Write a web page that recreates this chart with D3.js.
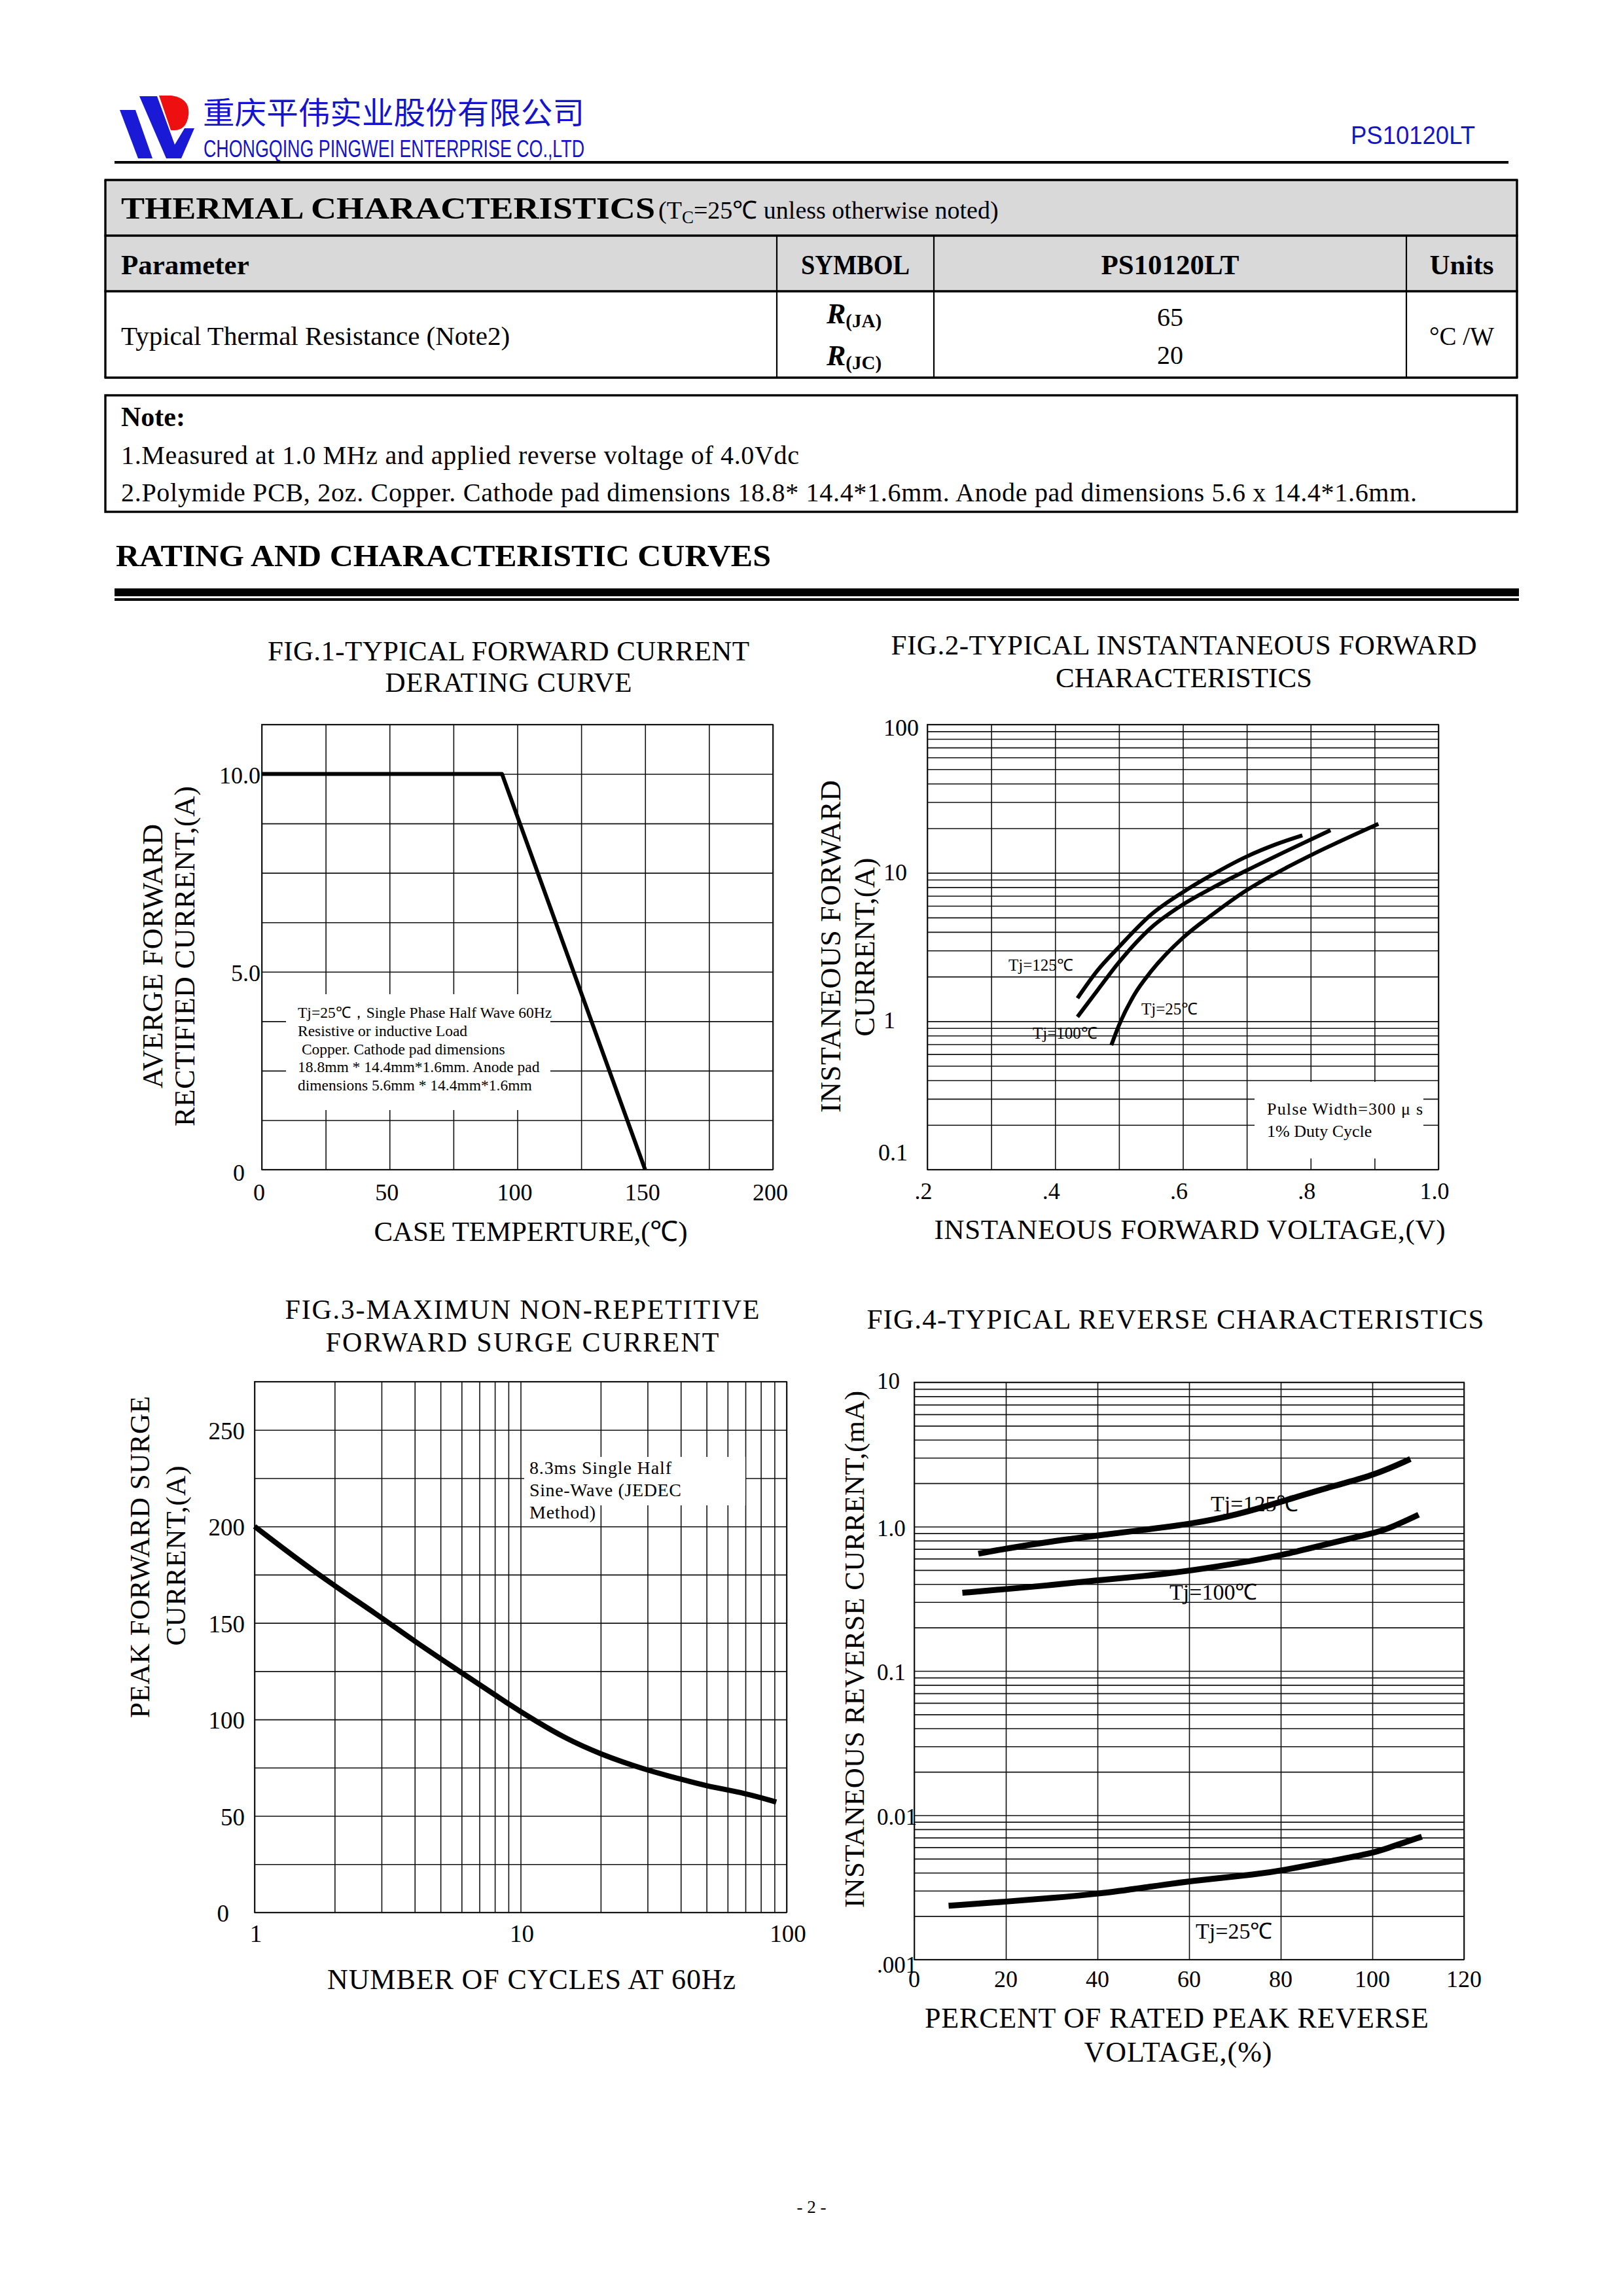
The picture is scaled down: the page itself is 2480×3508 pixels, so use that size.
<!DOCTYPE html>
<html><head><meta charset="utf-8">
<script src="https://cdn.jsdelivr.net/npm/d3@7"></script>
<style>body{margin:0;background:#fff} svg{display:block}</style>
</head><body>
<script>
// ================= DATA =================
const companyCN = "重庆平伟实业股份有限公司";
const companyEN = "CHONGQING PINGWEI ENTERPRISE CO.,LTD";
const partNo = "PS10120LT";

const tableHeaders = ["Parameter", "SYMBOL", "PS10120LT", "Units"];
const tableParam = "Typical Thermal Resistance (Note2)";
const tableSymbols = ["(JA)", "(JC)"];
const tableValues = ["65", "20"];
const tableUnit = "°C /W";
const notes = ["1.Measured at 1.0 MHz and applied reverse voltage of 4.0Vdc",
  "2.Polymide PCB, 2oz. Copper. Cathode pad dimensions 18.8* 14.4*1.6mm. Anode pad dimensions 5.6 x 14.4*1.6mm."];

// Fig 1
const fig1Temp = [0, 94, 150];
const fig1Current = [10, 10, 0];
const fig1XTicks = [0, 50, 100, 150, 200];
const fig1YTicks = [0, 5, 10];
const fig1YLabels = ["0", "5.0", "10.0"];
const fig1Note = ["Tj=25℃，Single Phase Half Wave 60Hz", "Resistive or inductive Load",
  " Copper. Cathode pad dimensions", "18.8mm * 14.4mm*1.6mm. Anode pad", "dimensions 5.6mm * 14.4mm*1.6mm"];

// Fig 2
const fig2V125 = [0.435, 0.466, 0.500, 0.551, 0.600, 0.644, 0.700, 0.746, 0.787];
const fig2I125 = [1.43, 2.19, 3.17, 5.27, 7.41, 9.62, 12.9, 15.6, 17.9];
const fig2V100 = [0.435, 0.466, 0.500, 0.551, 0.600, 0.647, 0.700, 0.763, 0.831];
const fig2I100 = [1.07, 1.61, 2.50, 4.30, 6.12, 7.96, 10.4, 14.1, 19.4];
const fig2V25 = [0.488, 0.500, 0.524, 0.551, 0.600, 0.647, 0.700, 0.763, 0.801, 0.906];
const fig2I25 = [0.69, 0.94, 1.51, 2.19, 3.65, 5.27, 7.65, 10.9, 13.2, 21.4];
const fig2XTicks = [0.2, 0.4, 0.6, 0.8, 1.0];
const fig2XLabels = [".2", ".4", ".6", ".8", "1.0"];
const fig2YTicks = [100, 10, 1, 0.1];
const fig2YLabels = ["100", "10", "1", "0.1"];

// Fig 3
const fig3Cycles = [1, 1.69, 2.97, 3.96, 6.05, 9.11, 11.45, 14.6, 19.8, 29.9, 40.1, 49.1, 70.7, 91.4];
const fig3Current = [200, 175.9, 153.3, 140.8, 123.9, 107.5, 99, 90.5, 82.1, 73.6, 69.1, 65.7, 61.7, 57.2];
const fig3XTicks = [1, 10, 100];
const fig3YTicks = [0, 50, 100, 150, 200, 250];

// Fig 4
const fig4P125 = [14.0, 20.0, 30.1, 40.1, 50.1, 60.2, 70.2, 80.2, 90.2, 100.0, 108.3];
const fig4I125 = [0.649, 0.705, 0.792, 0.868, 0.951, 1.04, 1.20, 1.49, 1.87, 2.24, 2.94];
const fig4P100 = [10.5, 20.0, 30.1, 40.1, 50.1, 60.2, 74.2, 80.2, 90.2, 100.0, 103.3, 110.1];
const fig4I100 = [0.348, 0.369, 0.394, 0.425, 0.454, 0.493, 0.582, 0.633, 0.760, 0.897, 0.959, 1.21];
const fig4P25 = [7.5, 20.0, 30.1, 40.1, 50.1, 60.2, 75.2, 80.2, 90.2, 100.0, 103.3, 110.8];
const fig4I25 = [0.00236, 0.00252, 0.00267, 0.00285, 0.00315, 0.00351, 0.00391, 0.00414, 0.00477, 0.00545, 0.00592, 0.00711];
const fig4XTicks = [0, 20, 40, 60, 80, 100, 120];
const fig4YTicks = [10, 1, 0.1, 0.01, 0.001];
const fig4YLabels = ["10", "1.0", "0.1", "0.01", ".001"];

// ================= DRAW =================
const W = 2480, H = 3508;
const svg = d3.select("body").append("svg").attr("width", W).attr("height", H).attr("viewBox", `0 0 ${W} ${H}`);
svg.append("rect").attr("width", W).attr("height", H).attr("fill", "#fff");
const SERIF = "'Liberation Serif','Times New Roman',serif";
const SANS = "'Liberation Sans',Arial,sans-serif";
const BLUE = "#1414cc";

function txt(p, s, x, y, o = {}) {
  const t = p.append("text").attr("x", x).attr("y", y).text(s)
    .attr("font-family", o.family || SERIF).attr("font-size", o.size || 40)
    .attr("fill", o.fill || "#000");
  if (o.anchor) t.attr("text-anchor", o.anchor);
  if (o.weight) t.attr("font-weight", o.weight);
  if (o.style) t.attr("font-style", o.style);
  if (o.len) t.attr("textLength", o.len).attr("lengthAdjust", o.adjust || "spacing");
  if (o.rotate) t.attr("transform", `rotate(-90,${x},${y})`);
  t.style("white-space", "pre");
  return t;
}
function hline(p, x0, x1, y, w) { p.append("line").attr("x1", x0).attr("x2", x1).attr("y1", y).attr("y2", y).attr("stroke", "#000").attr("stroke-width", w); }
function vline(p, x, y0, y1, w) { p.append("line").attr("x1", x).attr("x2", x).attr("y1", y0).attr("y2", y1).attr("stroke", "#000").attr("stroke-width", w); }

// ---------- Header ----------
const hd = svg.append("g");
hd.append("polygon").attr("points", "183,168 207,168 233,242 211,242").attr("fill", "#1a1ad6");
hd.append("polygon").attr("points", "213,147 240,147 267,221 282,196 297,196 277,242 254,242").attr("fill", "#1a1ad6");
hd.append("path").attr("d", "M243,146 L262,146 Q291,150 288,176 Q285,199 266,199 L261,199 Z").attr("fill", "#ee1010");
txt(hd, companyCN, 310, 189, { family: "'Noto Sans CJK SC',sans-serif", size: 47, fill: BLUE, len: 583, adjust: "spacingAndGlyphs" });
txt(hd, companyEN, 311, 240, { family: SANS, size: 36, fill: BLUE, len: 582, adjust: "spacingAndGlyphs" });
txt(hd, partNo, 2064, 220, { family: SANS, size: 38, fill: BLUE, len: 190, adjust: "spacingAndGlyphs" });
hd.append("rect").attr("x", 175).attr("y", 246).attr("width", 2130).attr("height", 4).attr("fill", "#000");

// ---------- Table ----------
const tb = svg.append("g");
const TL = 161, TR = 2318, rows = [275, 360, 445, 577], cols = [1187, 1427, 2149];
tb.append("rect").attr("x", TL).attr("y", rows[0]).attr("width", TR - TL).attr("height", rows[2] - rows[0]).attr("fill", "#d9d9d9");
rows.forEach(r => hline(tb, TL - 1.5, TR + 1.5, r, 3.4));
vline(tb, TL, rows[0], rows[3], 3.4); vline(tb, TR, rows[0], rows[3], 3.4);
cols.forEach(c => vline(tb, c, rows[1], rows[3], 2.2));
txt(tb, "THERMAL CHARACTERISTICS", 185, 334, { size: 47, weight: "bold", len: 816, adjust: "spacingAndGlyphs" });
const sub = txt(tb, "", 1006, 334, { size: 38 });
sub.append("tspan").text("(T");
sub.append("tspan").text("C").attr("font-size", 27).attr("dy", 7);
sub.append("tspan").text("=25℃ unless otherwise noted)").attr("dy", -7);
const hx = [185, (cols[0] + cols[1]) / 2, (cols[1] + cols[2]) / 2, (cols[2] + TR) / 2];
tableHeaders.forEach((h, i) => txt(tb, h, hx[i], 419, { size: 43, weight: "bold", anchor: i ? "middle" : null, len: i === 1 ? 166 : null, adjust: "spacingAndGlyphs" }));
txt(tb, tableParam, 185, 527, { size: 41 });
[494, 558].forEach((by, i) => {
  const t = txt(tb, "", 1263, by, { size: 44, weight: "bold" });
  t.append("tspan").text("R").attr("font-style", "italic");
  t.append("tspan").text(tableSymbols[i]).attr("font-size", 29).attr("dy", 6);
  txt(tb, tableValues[i], hx[2], i ? 556 : 498, { size: 40, anchor: "middle" });
});
txt(tb, tableUnit, hx[3], 527, { size: 39, anchor: "middle" });

// Note box
tb.append("rect").attr("x", TL).attr("y", 604).attr("width", TR - TL).attr("height", 178).attr("fill", "none").attr("stroke", "#000").attr("stroke-width", 3.4);
txt(tb, "Note:", 185, 651, { size: 42, weight: "bold" });
txt(tb, notes[0], 185, 709, { size: 40, len: 1036 });
txt(tb, notes[1], 185, 766, { size: 40, len: 1980 });

// Section title
txt(svg, "RATING AND CHARACTERISTIC CURVES", 177, 865, { size: 47, weight: "bold", len: 1001, adjust: "spacingAndGlyphs" });
svg.append("rect").attr("x", 175).attr("y", 899).attr("width", 2146).attr("height", 12).attr("fill", "#000");
svg.append("rect").attr("x", 175).attr("y", 914).attr("width", 2146).attr("height", 4).attr("fill", "#000");

// ---------- helpers for plots ----------
function gridLines(g, x, y, xv, yv) {
  const [yb, yt] = y.range(), [xl, xr] = x.range();
  const gx = g.append("g").attr("transform", `translate(0,${yb})`)
    .call(d3.axisBottom(x).tickValues(xv).tickSize(-(yb - yt)).tickSizeOuter(0).tickFormat(""));
  const gy = g.append("g").attr("transform", `translate(${xl},0)`)
    .call(d3.axisLeft(y).tickValues(yv).tickSize(-(xr - xl)).tickSizeOuter(0).tickFormat(""));
  [gx, gy].forEach(a => { a.select(".domain").remove(); a.selectAll("line").attr("stroke", "#111").attr("stroke-width", 1.6); });
}
function frame(g, x, y) {
  const [yb, yt] = y.range(), [xl, xr] = x.range();
  g.append("rect").attr("x", xl).attr("y", yt).attr("width", xr - xl).attr("height", yb - yt)
    .attr("fill", "none").attr("stroke", "#111").attr("stroke-width", 1.8);
}
function curve(g, x, y, xs, ys, w, cv) {
  const pts = xs.map((v, i) => [v, ys[i]]);
  g.append("path").datum(pts)
    .attr("d", d3.line().x(d => x(d[0])).y(d => y(d[1])).curve(cv || d3.curveLinear))
    .attr("fill", "none").attr("stroke", "#000").attr("stroke-width", w)
    .attr("stroke-linejoin", "round").attr("stroke-linecap", "butt");
}
function mask(g, x0, y0, x1, y1) { g.append("rect").attr("x", x0).attr("y", y0).attr("width", x1 - x0).attr("height", y1 - y0).attr("fill", "#fff"); }

// ---------- Fig 1 ----------
{
  const g = svg.append("g");
  const x = d3.scaleLinear().domain([0, 200]).range([400, 1181]);
  const y = d3.scaleLinear().domain([0, 11.25]).range([1787, 1107]);
  txt(g, "FIG.1-TYPICAL FORWARD CURRENT", 777, 1009, { size: 43, anchor: "middle", len: 736 });
  txt(g, "DERATING CURVE", 777, 1057, { size: 43, anchor: "middle", len: 377 });
  gridLines(g, x, y, d3.range(0, 201, 25), d3.range(0, 11.26, 1.25));
  mask(g, 437, 1519, 841, 1696);
  frame(g, x, y);
  fig1Note.forEach((s, i) => txt(g, s, 455, 1555 + i * 27.8, { size: 23.5 }));
  curve(g, x, y, fig1Temp, fig1Current, 6);
  fig1YTicks.forEach((v, i) => txt(g, fig1YLabels[i], v === 0 ? 374 : x(0) - 2, y(v) + (v === 0 ? 17 : 14), { size: 36, anchor: "end" }));
  fig1XTicks.forEach(v => txt(g, String(v), x(v) - 4, 1834, { size: 36, anchor: "middle" }));
  txt(g, "CASE TEMPERTURE,(℃)", 811, 1896, { size: 43, anchor: "middle", len: 479 });
  txt(g, "AVERGE FORWARD", 248, 1461, { size: 44, anchor: "middle", rotate: true, len: 404 });
  txt(g, "RECTIFIED CURRENT,(A)", 297, 1461, { size: 44, anchor: "middle", rotate: true, len: 520 });
}

// ---------- Fig 2 ----------
{
  const g = svg.append("g");
  const x = d3.scaleLinear().domain([0.2, 1.0]).range([1417, 2198]);
  const y = d3.scaleLog().domain([0.1, 100]).range([1787, 1107]);
  txt(g, "FIG.2-TYPICAL INSTANTANEOUS FORWARD", 1809, 1000, { size: 43, anchor: "middle", len: 895 });
  txt(g, "CHARACTERISTICS", 1809, 1050, { size: 43, anchor: "middle", len: 392 });
  gridLines(g, x, y, d3.range(0.2, 1.001, 0.1), y.ticks());
  mask(g, 1917, 1653, 2175, 1770);
  frame(g, x, y);
  txt(g, "Pulse Width=300 μ s", 1936, 1703, { size: 26, len: 238 });
  txt(g, "1% Duty Cycle", 1936, 1737, { size: 26 });
  curve(g, x, y, fig2V125, fig2I125, 6, d3.curveMonotoneX);
  curve(g, x, y, fig2V100, fig2I100, 6, d3.curveMonotoneX);
  curve(g, x, y, fig2V25, fig2I25, 6, d3.curveMonotoneX);
  txt(g, "Tj=125℃", 1541, 1483, { size: 25 });
  txt(g, "Tj=100℃", 1578, 1587, { size: 25 });
  txt(g, "Tj=25℃", 1744, 1550, { size: 25 });
  fig2YTicks.forEach((v, i) => txt(g, fig2YLabels[i], v < 1 ? 1342 : 1350, y(v) + (v === 100 ? 17 : v < 1 ? -14 : 11), { size: 36 }));
  fig2XTicks.forEach((v, i) => txt(g, fig2XLabels[i], x(v) - 6, 1832, { size: 36, anchor: "middle" }));
  txt(g, "INSTANEOUS FORWARD VOLTAGE,(V)", 1818, 1893, { size: 43, anchor: "middle", len: 781 });
  txt(g, "INSTANEOUS FORWARD", 1284, 1446, { size: 44, anchor: "middle", rotate: true, len: 508 });
  txt(g, "CURRENT,(A)", 1336, 1447, { size: 44, anchor: "middle", rotate: true, len: 273 });
}

// ---------- Fig 3 ----------
{
  const g = svg.append("g");
  const x = d3.scaleLog().domain([1, 100]).range([389, 1202]);
  const y = d3.scaleLinear().domain([0, 275]).range([2922, 2111]);
  txt(g, "FIG.3-MAXIMUN NON-REPETITIVE", 798, 2015, { size: 42, anchor: "middle", len: 725 });
  txt(g, "FORWARD SURGE CURRENT", 798, 2065, { size: 42, anchor: "middle", len: 601 });
  gridLines(g, x, y, x.ticks(), d3.range(0, 276, 25));
  mask(g, 801, 2226, 1139, 2300);
  mask(g, 801, 2300, 912, 2328);
  frame(g, x, y);
  ["8.3ms Single Half", "Sine-Wave (JEDEC", "Method)"].forEach((s, i) => txt(g, s, 809, 2252 + i * 34, { size: 28, len: [217, 232, 101][i] }));
  curve(g, x, y, fig3Cycles, fig3Current, 8, d3.curveBasis);
  fig3YTicks.forEach(v => txt(g, String(v), v === 0 ? 350 : 374, y(v) + 14, { size: 37, anchor: "end" }));
  fig3XTicks.forEach(v => txt(g, String(v), x(v) + 2, 2967, { size: 37, anchor: "middle" }));
  txt(g, "NUMBER OF CYCLES AT 60Hz", 812, 3039, { size: 44, anchor: "middle", len: 624 });
  txt(g, "PEAK FORWARD SURGE", 228, 2379, { size: 43, anchor: "middle", rotate: true, len: 492 });
  txt(g, "CURRENT,(A)", 283, 2377, { size: 43, anchor: "middle", rotate: true, len: 275 });
}

// ---------- Fig 4 ----------
{
  const g = svg.append("g");
  const x = d3.scaleLinear().domain([0, 120]).range([1397, 2237]);
  const y = d3.scaleLog().domain([0.001, 10]).range([2994, 2112]);
  txt(g, "FIG.4-TYPICAL REVERSE CHARACTERISTICS", 1796, 2030, { size: 43, anchor: "middle", len: 943 });
  gridLines(g, x, y, d3.range(0, 121, 20), y.ticks());
  frame(g, x, y);
  curve(g, x, y, fig4P125, fig4I125, 9, d3.curveBasis);
  curve(g, x, y, fig4P100, fig4I100, 9, d3.curveBasis);
  curve(g, x, y, fig4P25, fig4I25, 9, d3.curveBasis);
  txt(g, "Tj=125℃", 1850, 2309, { size: 34 });
  txt(g, "Tj=100℃", 1787, 2444, { size: 34 });
  txt(g, "Tj=25℃", 1827, 2962, { size: 34 });
  fig4YTicks.forEach((v, i) => txt(g, fig4YLabels[i], 1340, y(v) + (v === 10 ? 10 : v === 0.001 ? 20 : 14), { size: 35 }));
  fig4XTicks.forEach(v => txt(g, String(v), x(v), 3036, { size: 36, anchor: "middle" }));
  txt(g, "PERCENT OF RATED PEAK REVERSE", 1798, 3098, { size: 44, anchor: "middle", len: 770 });
  txt(g, "VOLTAGE,(%)", 1800, 3150, { size: 44, anchor: "middle", len: 287 });
  txt(g, "INSTANEOUS REVERSE CURRENT,(mA)", 1320, 2520, { size: 43, anchor: "middle", rotate: true, len: 790 });
}

// Page number
txt(svg, "- 2 -", 1240, 3381, { size: 27, anchor: "middle" });
</script>
</body></html>
